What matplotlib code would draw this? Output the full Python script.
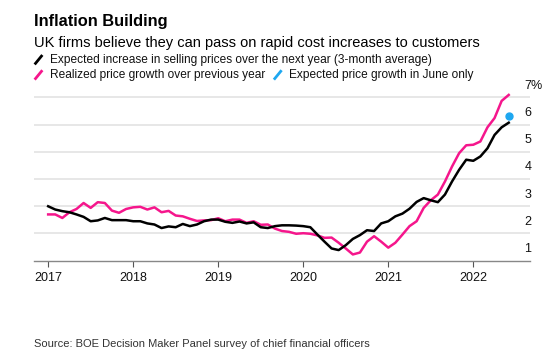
import matplotlib
matplotlib.use("Agg")
import matplotlib.pyplot as plt
from matplotlib.lines import Line2D
import numpy as np

plt.rcParams['font.family'] = ['Liberation Sans', 'DejaVu Sans']

# Monthly data, Jan 2017 .. Jun 2022
expected = [3.00, 2.88, 2.82, 2.78, 2.70, 2.61, 2.45, 2.48, 2.57, 2.49, 2.49, 2.49,
            2.45, 2.45, 2.37, 2.33, 2.20, 2.26, 2.23, 2.35, 2.27, 2.33, 2.45, 2.51,
            2.51, 2.43, 2.39, 2.44, 2.37, 2.41, 2.23, 2.20, 2.27, 2.30, 2.30, 2.29,
            2.27, 2.23, 1.96, 1.70, 1.45, 1.39, 1.57, 1.80, 1.94, 2.12, 2.09, 2.37,
            2.45, 2.63, 2.73, 2.91, 3.16, 3.30, 3.22, 3.15, 3.43, 3.91, 4.34, 4.71,
            4.67, 4.83, 5.13, 5.62, 5.90, 6.07]
realized = [2.70, 2.70, 2.57, 2.78, 2.90, 3.12, 2.94, 3.15, 3.12, 2.84, 2.76, 2.90,
            2.96, 2.98, 2.88, 2.96, 2.78, 2.83, 2.66, 2.63, 2.54, 2.46, 2.48, 2.49,
            2.56, 2.45, 2.51, 2.51, 2.39, 2.45, 2.32, 2.33, 2.18, 2.09, 2.06, 1.99,
            2.01, 1.99, 1.93, 1.84, 1.85, 1.66, 1.45, 1.23, 1.30, 1.70, 1.90, 1.70,
            1.48, 1.66, 1.96, 2.27, 2.45, 2.94, 3.22, 3.43, 3.91, 4.46, 4.95, 5.24,
            5.26, 5.38, 5.90, 6.24, 6.87, 7.09]
june_month = 65
june_expected = 6.31

year_labels = ['2017', '2018', '2019', '2020', '2021', '2022']
y_ticks = [1, 2, 3, 4, 5, 6, 7]
y_labels = ['1', '2', '3', '4', '5', '6', '7%']

months = np.arange(len(expected))

PINK = '#f5168c'
BLUE = '#1ea7f0'

fig = plt.figure(figsize=(5.5, 3.62), dpi=100)
ax = fig.add_axes([0.0618, 0.2798, 0.9018, 0.4738])
ax.set_xlim(-2, 68)
ax.set_ylim(1, 7.3)

for yv in y_ticks[1:]:
    ax.axhline(yv, color='#e3e3e3', lw=1.2, zorder=0)

ax.plot(months, realized, color=PINK, lw=1.8, zorder=3, solid_joinstyle='round')
ax.plot(months, expected, color='black', lw=1.8, zorder=4, solid_joinstyle='round')
ax.plot([june_month], [june_expected], 'o', color=BLUE, ms=5, zorder=5)

for s in ['top', 'right', 'left']:
    ax.spines[s].set_visible(False)
ax.spines['bottom'].set_color('#888888')
ax.spines['bottom'].set_linewidth(1.0)
ax.set_yticks([])
ax.set_xticks([12 * i for i in range(len(year_labels))])
ax.set_xticklabels(year_labels, fontsize=9)
ax.tick_params(axis='x', length=4, width=0.8, color='#555555', pad=4, labelcolor='#111111')

for yv, lab in zip(y_ticks, y_labels):
    ax.annotate(lab, xy=(1.0, yv), xycoords=('axes fraction', 'data'),
                xytext=(-4, 4), textcoords='offset points', ha='left', va='bottom',
                fontsize=9, color='#111111')

fig.text(0.061, 0.94, 'Inflation Building', fontsize=11.8, fontweight='bold',
         ha='left', va='center', color='black')
fig.text(0.061, 0.88, 'UK firms believe they can pass on rapid cost increases to customers',
         fontsize=10.5, ha='left', va='center', color='black')

def legend_item(x, y, color, text):
    fig.add_artist(Line2D([x, x + 0.014], [y - 0.013, y + 0.013], transform=fig.transFigure,
                          color=color, lw=2, solid_capstyle='butt'))
    fig.text(x + 0.027, y, text, fontsize=8.6, ha='left', va='center', color='#111111')

legend_item(0.063, 0.835, 'black', 'Expected increase in selling prices over the next year (3-month average)')
legend_item(0.063, 0.793, PINK, 'Realized price growth over previous year')
legend_item(0.498, 0.793, BLUE, 'Expected price growth in June only')

fig.text(0.061, 0.05, 'Source: BOE Decision Maker Panel survey of chief financial officers',
         fontsize=8.0, ha='left', va='center', color='#333333')

fig.savefig('out.png', dpi=100, facecolor='white')
